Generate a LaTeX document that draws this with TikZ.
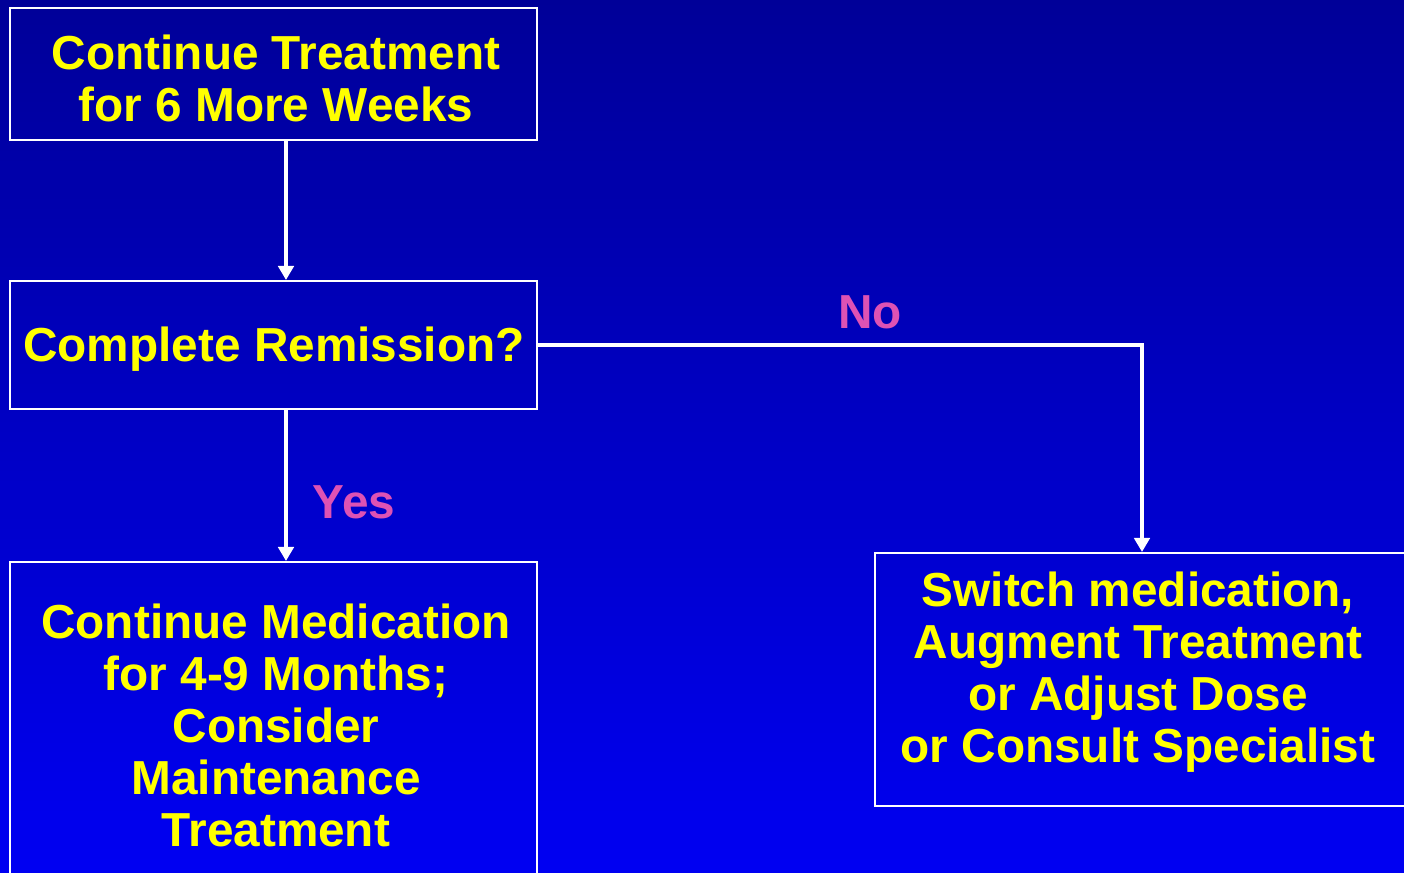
\documentclass[tikz,border=0pt]{standalone}
\usepackage{fontspec}
\setmainfont{Liberation Sans}
\usetikzlibrary{arrows.meta}
\definecolor{bgtop}{RGB}{0,0,152}
\definecolor{bgbot}{RGB}{0,0,242}
\definecolor{txtyellow}{RGB}{255,255,0}
\definecolor{lblpink}{RGB}{222,82,180}
\tikzset{
  box/.style={draw=white, line width=1.5pt, rectangle, inner sep=0pt},
  boxtext/.style={text=txtyellow, align=center, font=\bfseries\fontsize{35.8}{39}\selectfont, inner sep=0pt},
  lbl/.style={text=lblpink, font=\bfseries\fontsize{35.8}{39}\selectfont, inner sep=0pt},
  conn/.style={draw=white, line width=3pt, line join=miter, -{Triangle[width=11.5pt,length=10.5pt]}}
}
\begin{document}
\begin{tikzpicture}[x=0.75pt, y=-0.75pt]
\useasboundingbox (0,0) rectangle (1404,873);
\shade[top color=bgtop, bottom color=bgbot] (0,0) rectangle (1404,873);
\node[box, minimum width=395.25pt, minimum height=99pt] (b1) at (273.5,74) {};
\node[box, minimum width=395.25pt, minimum height=96pt] (b2) at (273.5,345) {};
\node[box, minimum width=395.25pt, minimum height=242.25pt] (b3) at (273.5,723.5) {};
\node[box, minimum width=400.5pt, minimum height=189.75pt] (b4) at (1142,679.5) {};
\node[boxtext] (t1) at (276,78) {Continue Treatment\\for 6 More Weeks};
\node[boxtext] (t2) at (274,349) {Complete Remission?};
\node[boxtext] (t3) at (276,725) {Continue Medication\\for 4-9 Months;\\Consider\\Maintenance\\Treatment};
\node[boxtext] (t4) at (1138,672) {Switch medication,\\Augment Treatment\\or Adjust Dose\\or Consult Specialist};
\node[lbl] (no) at (870,312) {No};
\node[lbl] (yes) at (354,502) {Yes};
\coordinate (ax) at (286,0);
\draw[conn] (b1.south -| ax) -- (b2.north -| ax);
\draw[conn] (b2.south -| ax) -- (b3.north -| ax);
\draw[conn] (b2.east) -| (b4.north);
\end{tikzpicture}
\end{document}
